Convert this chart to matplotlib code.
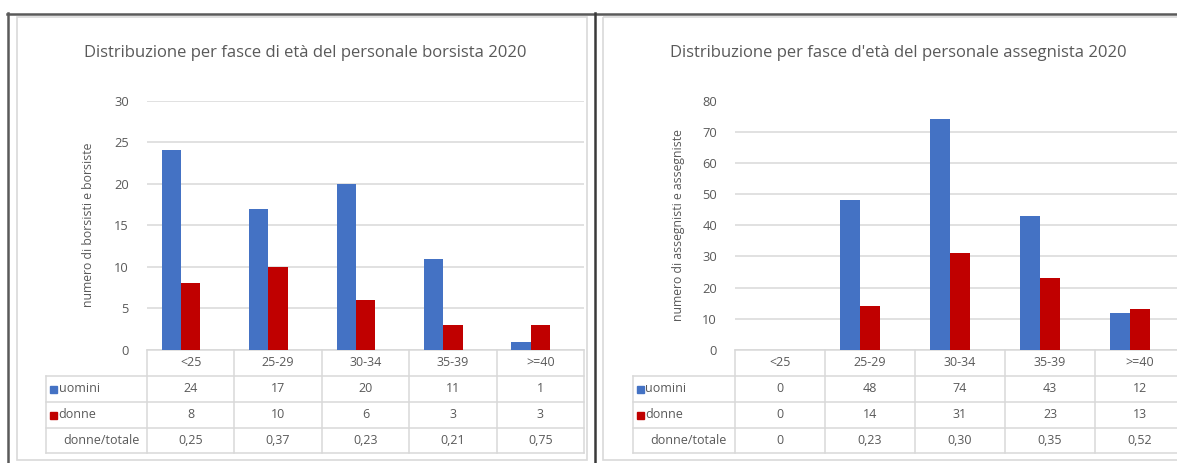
import matplotlib
matplotlib.use('Agg')
from matplotlib import pyplot as plt
from matplotlib.transforms import blended_transform_factory
from matplotlib.patches import Rectangle

# fasce di eta
fasce = ['<25', '25-29', '30-34', '35-39', '>=40']

# personale borsista 2020
bors_uomini = [24, 17, 20, 11, 1]
bors_donne = [8, 10, 6, 3, 3]
bors_ratio = [0.25, 0.37, 0.23, 0.21, 0.75]

# personale assegnista 2020
ass_uomini = [0, 48, 74, 43, 12]
ass_donne = [0, 14, 31, 23, 13]
ass_ratio = [0, 0.23, 0.30, 0.35, 0.52]

BLU = '#4472C4'
ROSSO = '#C00000'
TESTO = '#595959'
GRIGIO = '#D9D9D9'
FONT = 'Open Sans'

W, H = 1177, 463
plt.rcParams['font.family'] = [FONT, 'DejaVu Sans']

fig = plt.figure(figsize=(W / 100, H / 100), dpi=100)

# sfondo in coordinate pixel per cornici e tabelle
bg = fig.add_axes([0, 0, 1, 1], zorder=0)
bg.set_xlim(0, W)
bg.set_ylim(H, 0)
bg.axis('off')

# cornici dei due grafici
bg.add_patch(Rectangle((16.5, 17), 570, 443, fill=False, edgecolor=GRIGIO, lw=1.2))
bg.add_patch(Rectangle((603, 17), 600, 443, fill=False, edgecolor=GRIGIO, lw=1.2))
bg.plot([7, W], [13.5, 13.5], color='#5a5a5a', lw=1.8)
bg.plot([8, 8], [13, H], color='#5a5a5a', lw=1.8)
bg.plot([595, 595], [13, H], color='#3a3a3a', lw=1.8)


def ax_pixel(x0, y0, x1, y1):
    return fig.add_axes([x0 / W, 1 - y1 / H, (x1 - x0) / W, (y1 - y0) / H], zorder=1)


def grafico(x0, x1, title, title_x, ylabel, ymax, ystep, uomini, donne, ratio, ylab_x, lab_left):
    ax = ax_pixel(x0, 100.5, x1, 350)
    ax.patch.set_alpha(0)
    n = len(fasce)
    xs = list(range(n))
    w = 0.22
    # terza serie (donne/totale) senza riempimento: le barre visibili sono spostate a sinistra
    ax.bar([x - w for x in xs], uomini, width=w, color=BLU, zorder=3)
    ax.bar(xs, donne, width=w, color=ROSSO, zorder=3)
    ax.set_xlim(-0.5, n - 0.5)
    ax.set_ylim(0, ymax)
    ax.set_yticks(range(0, ymax + 1, ystep))
    ax.set_xticks([])
    ax.tick_params(axis='y', length=0, pad=13, labelsize=9.3, labelcolor=TESTO)
    ax.grid(axis='y', color=GRIGIO, lw=1.1, zorder=0)
    for s in ax.spines.values():
        s.set_visible(False)

    fig.text(title_x / W, 1 - 53 / H, title, ha='center', va='center', fontsize=12, color=TESTO)
    fig.text(ylab_x / W, 1 - 225 / H, ylabel, rotation=90, ha='center', va='center',
             fontsize=8.8, color=TESTO)

    # tabella dati sotto l'asse
    tr = blended_transform_factory(ax.transData, bg.transData)
    righe = [350, 375.5, 401.5, 427.5, 453]
    left = -0.5 - (x0 - lab_left) / ((x1 - x0) / n)
    right = n - 0.5
    kw = dict(color=GRIGIO, lw=1.1, transform=tr, clip_on=False, zorder=2)
    ax.plot([-0.5, right], [righe[0], righe[0]], **kw)
    for y in righe[1:]:
        ax.plot([left, right], [y, y], **kw)
    ax.plot([left, left], [righe[1], righe[-1]], **kw)
    for i in range(n + 1):
        ax.plot([i - 0.5, i - 0.5], [righe[0], righe[-1]], **kw)

    tk = dict(ha='center', va='center', fontsize=9, color=TESTO, transform=tr, clip_on=False)
    for i, f in enumerate(fasce):
        ax.text(i, (righe[0] + righe[1]) / 2, f, **tk)
        ax.text(i, (righe[1] + righe[2]) / 2, str(uomini[i]), **tk)
        ax.text(i, (righe[2] + righe[3]) / 2, str(donne[i]), **tk)
        r = '0' if ratio[i] == 0 else ('%.2f' % ratio[i]).replace('.', ',')
        ax.text(i, (righe[3] + righe[4]) / 2, r, **tk)

    # etichette di riga con i quadratini della legenda
    lx = lab_left + 4
    for y, lab, col in [((righe[1] + righe[2]) / 2, 'uomini', BLU),
                        ((righe[2] + righe[3]) / 2, 'donne', ROSSO)]:
        bg.add_patch(Rectangle((lx, y - 3), 7, 7, color=col))
        bg.text(lx + 8.5, y, lab, ha='left', va='center', fontsize=9, color=TESTO)
    bg.text(lx + 13, (righe[3] + righe[4]) / 2, 'donne/totale', ha='left', va='center',
            fontsize=9, color=TESTO)
    return ax


grafico(147, 584, 'Distribuzione per fasce di età del personale borsista 2020', 305,
        'numero di borsisti e borsiste', 30, 5, bors_uomini, bors_donne, bors_ratio, 88, 46)
grafico(735, 1185, "Distribuzione per fasce d'età del personale assegnista 2020", 898,
        'numero di assegnisti e assegniste', 80, 10, ass_uomini, ass_donne, ass_ratio, 678, 633)

fig.savefig('out.png', dpi=100)
